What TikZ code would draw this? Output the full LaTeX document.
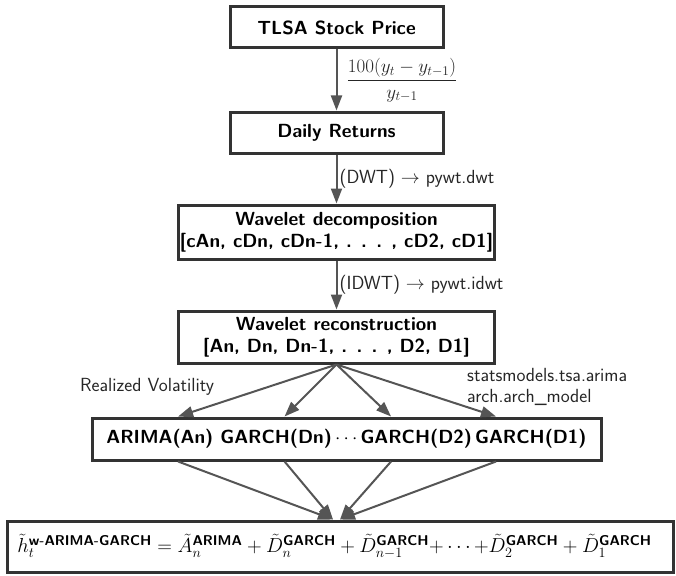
\RequirePackage{fix-cm}
\documentclass[tikz,border=0pt]{standalone}
\usepackage{amsmath}
\usepackage{fontspec}
\usetikzlibrary{calc,arrows.meta}
\definecolor{boxline}{HTML}{333333}
\definecolor{arrowc}{HTML}{555555}
\newcommand{\mysf}[1]{\text{\sffamily\bfseries #1}}
\begin{document}
\begin{tikzpicture}[x=1pt,y=-1pt,
  box/.style={draw=boxline,line width=3pt,inner sep=0pt,align=center,
    font=\fontsize{19}{22}\selectfont\sffamily\bfseries},
  conn/.style={draw=arrowc,line width=2pt,-{Triangle[length=15pt,width=11pt]}},
  lbl/.style={font=\fontsize{19}{21}\selectfont\sffamily,inner sep=0pt,text=black!85}]
\useasboundingbox (0,0) rectangle (676,575);
\node[box,minimum width=213pt,minimum height=41pt] (n1) at (336.5,27.5) {TLSA Stock Price};
\node[box,minimum width=213pt,minimum height=41pt] (n2) at (336.5,132.5) {Daily Returns};
\node[box,minimum width=316pt,minimum height=54pt] (n3) at (336.5,232) {Wavelet decomposition\\{}[cAn, cDn, cDn-1, . . . , cD2, cD1]};
\node[box,minimum width=316pt,minimum height=52pt] (n4) at (336.5,337) {Wavelet reconstruction\\{}[An, Dn, Dn-1, . . . , D2, D1]};
\node[box,minimum width=509pt,minimum height=42pt] (n5) at (346.5,439) {ARIMA(An) GARCH(Dn)\,$\cdots$GARCH(D2)\,GARCH(D1)};
\node[draw=boxline,line width=3pt,minimum width=666pt,minimum height=51pt] (n6) at (340,546.5) {};
\node[inner sep=0pt,font=\fontsize{20.3}{24}\selectfont] (f6) at (334.5,546.5)
  {$\tilde{h}_t^{\mysf{w-ARIMA-GARCH}} = \tilde{A}_n^{\mysf{ARIMA}} + \tilde{D}_n^{\mysf{GARCH}} + \tilde{D}_{n-1}^{\mysf{GARCH}}{+}\cdots{+}\tilde{D}_2^{\mysf{GARCH}} + \tilde{D}_1^{\mysf{GARCH}}$};
\draw[conn] (n1) -- (n2);
\draw[conn] (n2) -- (n3);
\draw[conn] (n3) -- (n4);
\node[lbl,anchor=west,font=\fontsize{19}{22}\selectfont] (l1) at ($(n1.south)!0.5!(n2.north)+(10,0)$) {$\dfrac{100(y_t-y_{t-1})}{y_{t-1}}$};
\node[lbl,anchor=west] (l2) at ($(n2.south)!0.5!(n3.north)+(3,0)$) {(DWT) $\rightarrow$ pywt.dwt};
\node[lbl,anchor=west] (l3) at ($(n3.south)!0.5!(n4.north)+(3,0)$) {(IDWT) $\rightarrow$ pywt.idwt};
\foreach \f [count=\i] in {0.171,0.379,0.587,0.792} {
  \coordinate (t\i) at ($(n5.north west)!\f!(n5.north east)$);
  \coordinate (b\i) at ($(n5.south west)!\f!(n5.south east)$);
  \draw[conn] (n4.south) -- (t\i);
}
\draw[conn] (b1) -- ($(n6.north)+(-7,0)$);
\draw[conn] (b2) -- ($(n6.north)+(-7,0)$);
\draw[conn] (b3) -- (n6.north);
\draw[conn] (b4) -- (n6.north);
\node[lbl,anchor=west] (l4) at (80,387) {Realized Volatility};
\node[lbl,anchor=west,align=left] (l5) at (467,387) {statsmodels.tsa.arima\\arch.arch\_model};
\end{tikzpicture}
\end{document}
